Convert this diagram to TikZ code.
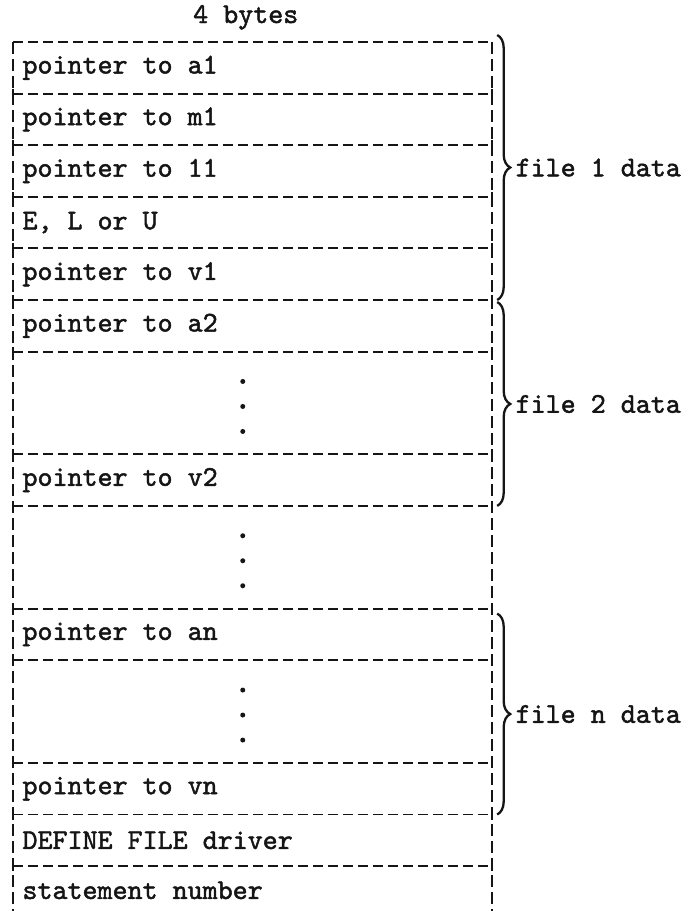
\documentclass[tikz,border=0pt]{standalone}
\usepackage{fontspec}
\newfontfamily\typer{lmmono10-regular.otf}[FakeBold=1.6]
\usetikzlibrary{calc,positioning,decorations.pathreplacing}
\definecolor{typeink}{HTML}{151515}
\tikzset{
  rowbox/.style={
    text=typeink,
    text width=460.5pt,
    minimum height=51.2pt,
    inner xsep=9pt,
    inner ysep=0pt,
    align=flush left,
    anchor=north,
    font=\typer\fontsize{28.6}{34}\selectfont
  },
  dotbox/.style={rowbox, minimum height=102.3pt},
  lastbox/.style={rowbox, minimum height=48pt},
  hdash/.style={draw=typeink, line width=1.9pt, dash pattern=on 10pt off 5pt},
  vdash/.style={draw=typeink, line width=1.8pt, dash pattern=on 12pt off 5pt},
  tick/.style={draw=typeink, line width=2pt},
  filebrace/.style={draw=typeink, line width=2.3pt, decorate,
    decoration={brace, amplitude=13pt}},
  filelabel/.style={anchor=west, xshift=14pt, text=typeink,
    font=\typer\fontsize{28.6}{34}\selectfont}
}
\begin{document}
\begin{tikzpicture}[node distance=0pt]
  \useasboundingbox[fill=white] (0,0) rectangle (695pt,-911pt);
  \node[rowbox] (a1) at (252.75pt,-42pt) {pointer to a1};
  \node[rowbox, below=of a1] (m1) {pointer to m1};
  \node[rowbox, below=of m1] (l1) {pointer to 11};
  \node[rowbox, below=of l1] (elu) {E, L or U};
  \node[rowbox, below=of elu] (v1) {pointer to v1};
  \node[rowbox, below=of v1] (a2) {pointer to a2};
  \node[dotbox, below=of a2] (d2) {};
  \node[rowbox, below=of d2] (v2) {pointer to v2};
  \node[dotbox, below=of v2] (dm) {};
  \node[rowbox, below=of dm] (an) {pointer to an};
  \node[dotbox, below=of an] (dn) {};
  \node[rowbox, below=of dn] (vn) {pointer to vn};
  \node[rowbox, below=of vn] (drv) {DEFINE FILE driver};
  \node[lastbox, below=of drv] (stno) {statement number};
  \node[rowbox, text width=, anchor=base] (width) at ([xshift=-7pt,yshift=19pt]a1.north) {4 bytes};

  \draw[hdash] (a1.north west) -- (a1.north east);
  \foreach \r in {a1,m1,l1,elu,v1,a2,d2,v2,dm,an,dn,vn,drv}
    \draw[hdash] (\r.south west) -- (\r.south east);
  \draw[hdash, draw=typeink!60] (stno.south west) -- (stno.south east);
  \draw[vdash] (a1.north west) -- (stno.south west);
  \draw[vdash] (a1.north east) -- (stno.south east);
  \foreach \r in {a1,m1,l1,elu,v1,a2,d2,v2,dm,an,dn,vn,drv} {
    \draw[tick] ([yshift=5pt]\r.south west) -- ([yshift=-5pt]\r.south west);
    \draw[tick] ([yshift=5pt]\r.south east) -- ([yshift=-5pt]\r.south east);
  }
  \draw[tick] (a1.north west) -- ([yshift=-6pt]a1.north west);
  \draw[tick] (a1.north east) -- ([yshift=-6pt]a1.north east);
  \foreach \r in {d2,dm,dn}
    \foreach \dy in {21.5,-3.5,-28.5}
      \fill[typeink] ([shift={(-10pt,\dy pt)}]\r.center) circle (2.5pt);

  \draw[filebrace] ([xshift=5pt,yshift=7pt]a1.north east) -- node[filelabel] (f1) {file 1 data} ([xshift=5pt]v1.south east);
  \draw[filebrace] ([xshift=5pt,yshift=-2pt]a2.north east) -- node[filelabel] (f2) {file 2 data} ([xshift=5pt]v2.south east);
  \draw[filebrace] ([xshift=5pt,yshift=-5pt]an.north east) -- node[filelabel] (fn) {file n data} ([xshift=5pt]vn.south east);
\end{tikzpicture}
\end{document}
